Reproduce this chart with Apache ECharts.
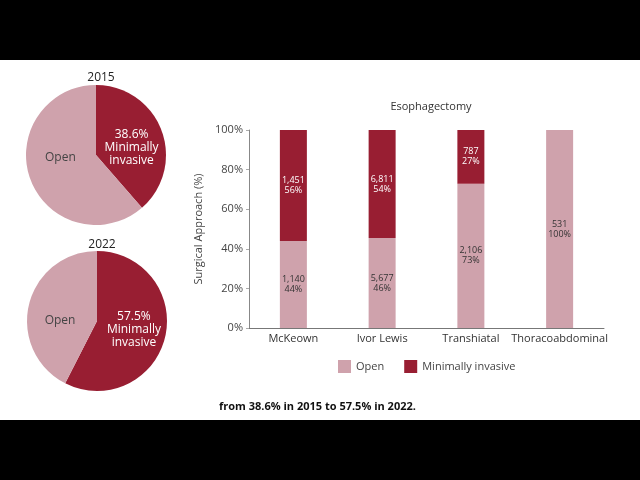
<!DOCTYPE html>
<html><head><meta charset="utf-8">
<script src="https://cdn.jsdelivr.net/npm/echarts@6/dist/echarts.min.js"></script>
<style>html,body{margin:0;padding:0;background:#000;}#c{width:640px;height:480px;}</style>
</head><body><div id="c"></div>
<script>
const categories = ['McKeown', 'Ivor Lewis', 'Transhiatal', 'Thoracoabdominal'];
const openPct = [44, 45.5, 72.8, 100];
const miPct = [56, 54.5, 27.2, 0];
const openCounts = ['1,140', '5,677', '2,106', '531'];
const miCounts = ['1,451', '6,811', '787', ''];
const openPctLabels = ['44%', '46%', '73%', '100%'];
const miPctLabels = ['56%', '54%', '27%', ''];
const yTicks = [0, 20, 40, 60, 80, 100];
const pieYears = ['2015', '2022'];
const pieMI = [38.6, 57.5];
const pieOpen = [61.4, 42.5];

const OPEN = '#cfa2ac', MI = '#981e32';
const FONT = '"Open Sans", "Noto Sans", sans-serif';

const chart = echarts.init(document.getElementById('c'));
function pieSeries(i, center, miDy, openDy) {
  return {
    type: 'pie', center: center, radius: 70, startAngle: 90, clockwise: true,
    silent: true, animation: false,
    label: { position: 'inside', fontFamily: FONT, fontSize: 12, lineHeight: 13 },
    labelLine: { show: false },
    labelLayout: function (p) { return p.dataIndex === 1 ? { dy: openDy } : { dy: miDy }; },
    data: [
      { name: 'Minimally invasive', value: pieMI[i], itemStyle: { color: MI },
        label: { color: '#fff', formatter: pieMI[i].toFixed(1) + '%\nMinimally\ninvasive' } },
      { name: 'Open', value: pieOpen[i], itemStyle: { color: OPEN },
        label: { color: '#444', formatter: 'Open' } }
    ]
  };
}
const option = {
  backgroundColor: '#000',
  animation: false,
  textStyle: { fontFamily: FONT },
  graphic: [
    { type: 'rect', shape: { x: 0, y: 60, width: 640, height: 360 }, style: { fill: '#fff' }, z: -10 },
    { type: 'text', left: 219, top: 401, style: { text: 'from 38.6% in 2015 to 57.5% in 2022.', font: 'bold 11px "Open Sans", sans-serif', fill: '#111' } }
  ],
  title: [
    { text: pieYears[0], left: 96, top: 67, textAlign: 'center', textStyle: { fontSize: 12, fontWeight: 'normal', color: '#222', fontFamily: FONT } },
    { text: pieYears[1], left: 97, top: 234, textAlign: 'center', textStyle: { fontSize: 12, fontWeight: 'normal', color: '#222', fontFamily: FONT } },
    { text: 'Esophagectomy', left: 426, top: 96, textAlign: 'center', textStyle: { fontSize: 11, fontWeight: 'normal', color: '#333', fontFamily: FONT } }
  ],
  legend: {
    left: 333, top: 355, itemWidth: 13, itemHeight: 13, itemGap: 20, icon: 'rect',
    textStyle: { fontSize: 11, color: '#444', fontFamily: FONT },
    data: ['Open', 'Minimally invasive']
  },
  grid: { left: 249, right: 36, top: 130, bottom: 152 },
  xAxis: {
    type: 'category', data: categories,
    axisLine: { lineStyle: { color: '#777' } }, axisTick: { show: false },
    axisLabel: { interval: 0, fontSize: 11, color: '#333', margin: 5, fontFamily: FONT }
  },
  yAxis: {
    type: 'value', min: 0, max: 100, interval: 20,
    name: 'Surgical Approach (%)', nameLocation: 'middle', nameGap: 42,
    nameTextStyle: { fontSize: 11, color: '#444', fontFamily: FONT },
    axisLine: { show: true, lineStyle: { color: '#888' } },
    axisTick: { show: true, length: 3, lineStyle: { color: '#aaa' } },
    splitLine: { show: false },
    axisLabel: { formatter: '{value}%', fontSize: 11, color: '#444', margin: 6, fontFamily: FONT }
  },
  series: [
    pieSeries(0, [96, 155], 6, -11),
    pieSeries(1, [97, 321], 0, 8),
    {
      name: 'Open', type: 'bar', stack: 's', barWidth: 27, data: openPct,
      itemStyle: { color: OPEN },
      label: { show: true, position: 'inside', fontSize: 9, lineHeight: 10, color: '#333', fontFamily: FONT,
        formatter: p => openCounts[p.dataIndex] + '\n' + openPctLabels[p.dataIndex] }
    },
    {
      name: 'Minimally invasive', type: 'bar', stack: 's', barWidth: 27, data: miPct,
      itemStyle: { color: MI },
      label: { show: true, position: 'inside', fontSize: 9, lineHeight: 10, color: '#fff', fontFamily: FONT,
        formatter: p => miCounts[p.dataIndex] ? miCounts[p.dataIndex] + '\n' + miPctLabels[p.dataIndex] : '' }
    }
  ]
};
chart.setOption(option);
</script></body></html>
